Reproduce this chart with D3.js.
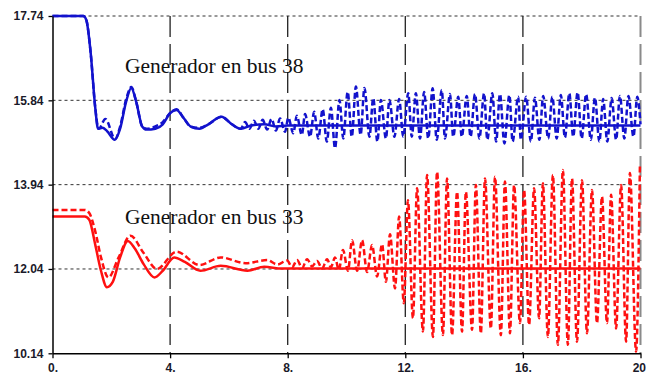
<!DOCTYPE html>
<html>
<head>
<meta charset="utf-8">
<script src="https://cdn.jsdelivr.net/npm/d3@7"></script>
<style>
  html, body { margin: 0; padding: 0; background: #fff; }
  svg { display: block; }
  .tick text { font-family: "Liberation Sans", Arial, sans-serif; font-weight: bold; font-size: 12px; fill: #1a1a2a; }
</style>
</head>
<body>
<svg id="chart" width="646" height="379"></svg>
<script>
// Axis ticks
const xTicks = [0, 4, 8, 12, 16, 20];
const yTicks = [10.14, 12.04, 13.94, 15.84, 17.74];

// Annotations
const labels = ["Generador en bus 38", "Generador en bus 33"];

// Generator at bus 38 — solid trace (time s, value)
const bus38SolidT = [0, 1.05, 1.15, 1.3, 1.45, 1.55, 1.7, 1.85, 2.12, 2.3, 2.5, 2.68, 2.85, 3.05, 3.2, 3.5, 3.75, 4.0, 4.22, 4.45, 4.7, 5.0, 5.3, 5.75, 6.1, 6.4, 6.8, 7.2, 7.6, 8.0, 20];
const bus38SolidV = [17.74, 17.74, 17.65, 16.9, 15.7, 15.2, 15.22, 15.15, 14.95, 15.2, 15.8, 16.12, 15.8, 15.25, 15.18, 15.2, 15.3, 15.55, 15.62, 15.45, 15.25, 15.2, 15.3, 15.47, 15.3, 15.2, 15.28, 15.3, 15.25, 15.27, 15.27];

// Generator at bus 38 — dashed trace
const bus38DashT = [0, 1.05, 1.15, 1.3, 1.45, 1.57, 1.8, 2.13, 2.3, 2.5, 2.68, 2.85, 3.05, 3.2, 3.5, 3.75, 4.0, 4.22, 4.45, 4.7, 5.0, 5.3, 5.75, 6.1, 6.4, 6.55, 6.7, 6.85, 7.0, 7.15, 7.3, 7.45, 7.6,
  7.74, 7.91, 8.02, 8.19, 8.31, 8.48, 8.59, 8.76, 8.90, 9.04, 9.19, 9.33, 9.47, 9.61, 9.76, 9.89, 10.04, 10.18, 10.32, 10.48, 10.61, 10.78, 10.91, 11.05, 11.17, 11.34, 11.46, 11.63, 11.79, 11.93,
  12.10, 12.22, 12.36, 12.50, 12.64, 12.78, 12.93, 13.07, 13.24, 13.35, 13.52, 13.63, 13.80, 13.92, 14.09, 14.22, 14.37, 14.52, 14.68, 14.79, 14.96, 15.09, 15.22, 15.37, 15.54, 15.65, 15.84, 15.93,
  16.11, 16.27, 16.41, 16.56, 16.69, 16.86, 17.0, 17.15, 17.29, 17.43, 17.58, 17.71, 17.86, 18.0, 18.15, 18.31, 18.45, 18.60, 18.73, 18.87, 19.02, 19.17, 19.30, 19.45, 19.59, 19.76, 19.89, 20];
const bus38DashV = [17.74, 17.74, 17.65, 16.9, 15.7, 15.2, 15.42, 14.97, 15.25, 15.85, 16.14, 15.8, 15.25, 15.2, 15.25, 15.35, 15.55, 15.64, 15.45, 15.25, 15.22, 15.3, 15.47, 15.3, 15.2, 15.35, 15.2, 15.38, 15.2, 15.4, 15.18, 15.42, 15.16,
  15.43, 15.13, 15.45, 15.10, 15.49, 15.06, 15.53, 15.02, 15.58, 14.98, 15.64, 14.91, 15.67, 14.76, 15.85, 14.98, 16.03, 15.02, 16.15, 15.06, 16.12, 15.02, 15.89, 14.91, 15.85, 14.98, 15.85, 15.02, 15.87, 15.02,
  16.0, 15.02, 16.0, 14.98, 16.03, 14.98, 16.11, 14.95, 16.07, 14.98, 15.98, 15.02, 15.92, 15.02, 15.94, 15.02, 15.98, 14.98, 16.0, 14.95, 16.0, 14.91, 15.98, 14.87, 15.96, 14.91, 15.92, 14.95,
  15.92, 14.91, 15.90, 14.95, 15.94, 14.98, 15.92, 14.98, 15.96, 15.0, 16.0, 15.02, 16.02, 14.98, 15.98, 14.95, 15.90, 14.91, 15.87, 14.91, 15.89, 14.95, 15.94, 14.98, 15.94, 15.02, 15.92, 15.3];

// Generator at bus 33 — solid trace
const bus33SolidT = [0, 1.1, 1.25, 1.45, 1.65, 1.85, 2.05, 2.3, 2.56, 2.8, 3.1, 3.47, 3.75, 4.14, 4.5, 5.03, 5.72, 6.63, 7.2, 7.8, 20];
const bus33SolidV = [13.22, 13.22, 13.15, 12.6, 12.0, 11.63, 11.75, 12.3, 12.67, 12.5, 12.15, 11.85, 12.0, 12.30, 12.2, 12.0, 12.11, 12.0, 12.09, 12.05, 12.05];

// Generator at bus 33 — dashed trace
const bus33DashT = [0, 1.1, 1.25, 1.45, 1.65, 1.9, 2.25, 2.65, 3.1, 3.55, 4.22, 5.0, 5.72, 6.57, 7.3, 7.65, 7.98,
  8.15, 8.32, 8.49, 8.66, 8.83, 9.0, 9.17, 9.34, 9.47, 9.61, 9.74, 9.88, 10.05, 10.19, 10.36, 10.53, 10.70, 10.87, 11.04, 11.21, 11.34, 11.48, 11.65, 11.79, 11.95,
  12.09, 12.26, 12.40, 12.60, 12.74, 12.94, 13.08, 13.28, 13.42, 13.59, 13.76, 13.93, 14.06, 14.27, 14.40, 14.57, 14.71, 14.91, 15.05, 15.25, 15.39, 15.56, 15.70, 15.90,
  16.04, 16.21, 16.38, 16.55, 16.68, 16.85, 17.02, 17.19, 17.36, 17.53, 17.67, 17.84, 18.01, 18.18, 18.35, 18.52, 18.69, 18.86, 19.0, 19.17, 19.34, 19.51, 19.64, 19.85, 19.98];
const bus33DashV = [13.37, 13.37, 13.3, 12.9, 12.3, 11.85, 12.3, 12.79, 12.4, 12.04, 12.43, 12.13, 12.30, 12.17, 12.24, 12.14, 12.23,
  12.08, 12.24, 12.06, 12.26, 12.10, 12.22, 12.05, 12.26, 12.08, 12.30, 12.02, 12.47, 12.0, 12.69, 12.0, 12.69, 11.97, 12.58, 11.87, 12.60, 11.75, 12.82, 11.60, 13.22, 11.27,
  13.59, 10.93, 13.86, 10.63, 14.16, 10.51, 14.23, 10.55, 14.08, 10.55, 13.78, 10.63, 13.78, 10.67, 13.93, 10.59, 14.08, 10.70, 14.12, 10.55, 14.01, 10.59, 13.93, 10.82,
  13.82, 10.78, 13.86, 10.93, 13.97, 10.51, 14.16, 10.33, 14.27, 10.33, 14.08, 10.40, 14.04, 10.59, 13.82, 10.82, 13.67, 10.82, 13.71, 10.70, 13.93, 10.40, 14.20, 10.18, 14.38];

const blue = "#1212cc";
const red = "#ff1010";

const svg = d3.select("#chart");
const x = d3.scaleLinear().domain([0, 20]).range([52.5, 640.5]);
const y = d3.scaleLinear().domain([10.14, 17.74]).range([353.3, 16]);

// Horizontal dotted grid
svg.append("g").selectAll("line")
  .data(yTicks.slice(1))
  .join("line")
  .attr("x1", x(0)).attr("x2", x(20))
  .attr("y1", d => y(d)).attr("y2", d => y(d))
  .attr("stroke", "#333").attr("stroke-width", 1)
  .attr("stroke-dasharray", "3,3");

// Vertical long-dashed grid
svg.append("g").selectAll("line")
  .data(xTicks.slice(1))
  .join("line")
  .attr("x1", d => x(d)).attr("x2", d => x(d))
  .attr("y1", y(17.74)).attr("y2", y(10.14))
  .attr("stroke", d => d === 20 ? "#8a8a8a" : "#222")
  .attr("stroke-width", d => d === 20 ? 2 : 1.3)
  .attr("stroke-dasharray", "21,7");

// Annotations
svg.append("g").selectAll("text")
  .data(labels)
  .join("text")
  .attr("x", 125)
  .attr("y", (d, i) => i === 0 ? 73 : 224)
  .attr("font-family", "'Liberation Serif', 'Times New Roman', serif")
  .attr("font-size", "21.5px")
  .attr("fill", "#111")
  .text(d => d);

// Traces
const line = d3.line()
  .x(d => x(d[0]))
  .y(d => y(d[1]))
  .curve(d3.curveMonotoneX);
const zip = (t, v) => t.map((d, i) => [d, v[i]]);

const series = [
  { pts: zip(bus38DashT, bus38DashV), color: blue, dash: "6,3" },
  { pts: zip(bus33DashT, bus33DashV), color: red, dash: "6,3" },
  { pts: zip(bus38SolidT, bus38SolidV), color: blue, dash: null },
  { pts: zip(bus33SolidT, bus33SolidV), color: red, dash: null }
];

svg.append("g").selectAll("path")
  .data(series)
  .join("path")
  .attr("d", d => line(d.pts))
  .attr("fill", "none")
  .attr("stroke", d => d.color)
  .attr("stroke-width", 2.5)
  .attr("stroke-linejoin", "round")
  .attr("stroke-dasharray", d => d.dash);

// Axes
const yAxis = svg.append("g")
  .attr("transform", `translate(${x(0)},0)`)
  .call(d3.axisLeft(y).tickValues(yTicks).tickSize(4).tickSizeOuter(0).tickPadding(5)
    .tickFormat(d => d.toFixed(2)));
const xAxis = svg.append("g")
  .attr("transform", `translate(0,${y(10.14)})`)
  .call(d3.axisBottom(x).tickValues(xTicks).tickSize(5).tickSizeOuter(0).tickPadding(5)
    .tickFormat(d => d === 20 ? "20" : d + "."));

// The last tick label sits at the right edge: anchor it so it stays inside
xAxis.selectAll(".tick text")
  .filter(d => d === 20)
  .attr("text-anchor", "end")
  .attr("dx", "5");

[yAxis, xAxis].forEach(g => {
  g.select(".domain").attr("stroke", "#000").attr("stroke-width", 1.5);
  g.selectAll(".tick line").attr("stroke", "#000").attr("stroke-width", 1.3);
});
</script>
</body>
</html>
